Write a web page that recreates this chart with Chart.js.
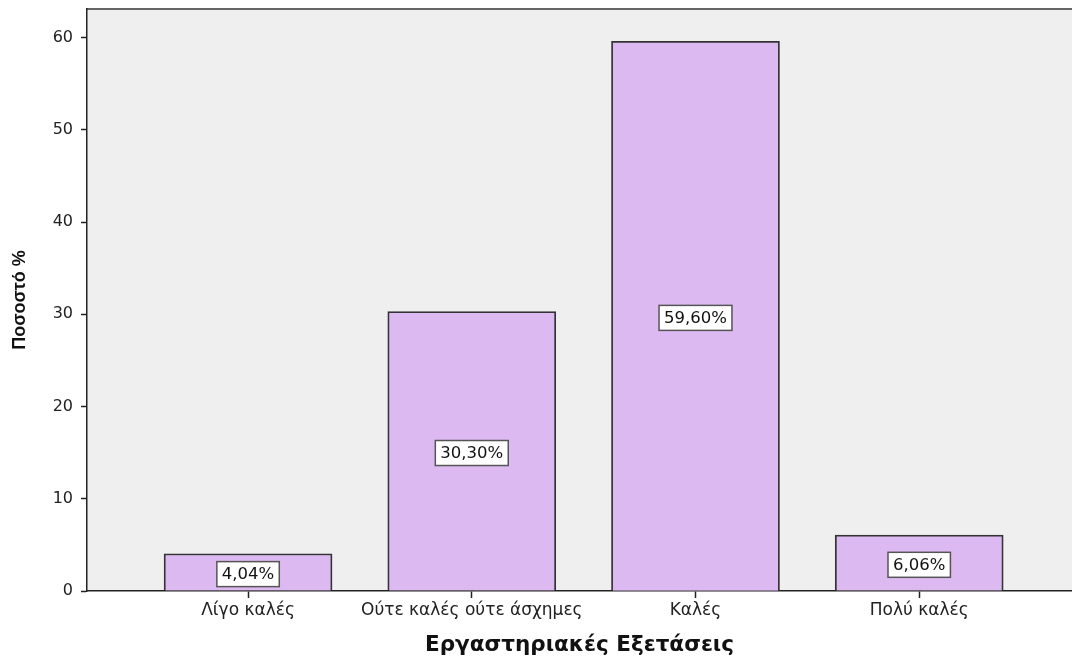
<!DOCTYPE html>
<html>
<head>
<meta charset="utf-8">
<script src="https://cdn.jsdelivr.net/npm/chart.js@4"></script>
<style>
  html, body { margin: 0; padding: 0; background: #fff; }
</style>
</head>
<body>
<canvas id="exams" width="1072" height="659"></canvas>
<script>
const categories = ['Λίγο καλές', 'Ούτε καλές ούτε άσχημες', 'Καλές', 'Πολύ καλές'];
const percents = [4.04, 30.30, 59.60, 6.06];
const yTicks = [0, 10, 20, 30, 40, 50, 60];

// grey plot panel with a frame line along the top
const panel = {
  id: 'panel',
  beforeDraw(chart) {
    const { ctx, chartArea: a } = chart;
    ctx.save();
    ctx.fillStyle = '#efefef';
    ctx.fillRect(a.left, a.top, a.right - a.left, a.bottom - a.top);
    ctx.strokeStyle = '#666';
    ctx.lineWidth = 2;
    ctx.beginPath();
    ctx.moveTo(a.left, a.top);
    ctx.lineTo(a.right, a.top);
    ctx.stroke();
    ctx.restore();
  }
};

// boxed percentage in the middle of every bar
const boxLabels = {
  id: 'boxLabels',
  afterDatasetsDraw(chart) {
    const ctx = chart.ctx;
    const meta = chart.getDatasetMeta(0);
    ctx.save();
    ctx.font = '16.5px "DejaVu Sans"';
    ctx.textAlign = 'center';
    ctx.textBaseline = 'middle';
    meta.data.forEach((bar, i) => {
      const txt = percents[i].toFixed(2).replace('.', ',') + '%';
      const w = ctx.measureText(txt).width + 10;
      const h = 25;
      const cy = (bar.y + bar.base) / 2 + 2;
      ctx.fillStyle = '#fff';
      ctx.fillRect(bar.x - w / 2, cy - h / 2, w, h);
      ctx.strokeStyle = '#555';
      ctx.lineWidth = 1.5;
      ctx.strokeRect(bar.x - w / 2, cy - h / 2, w, h);
      ctx.fillStyle = '#111';
      ctx.fillText(txt, bar.x, cy + 1);
    });
    ctx.restore();
  }
};

new Chart(document.getElementById('exams'), {
  type: 'bar',
  data: {
    datasets: [{
      data: percents.map((v, i) => ({ x: i, y: v })),
      backgroundColor: '#ddb9f2',
      borderColor: '#333',
      borderWidth: 1.8,
      borderSkipped: 'bottom',
      barThickness: 168
    }]
  },
  options: {
    responsive: false,
    animation: false,
    layout: { padding: { top: 9, right: 0, left: 0, bottom: 0 } },
    plugins: { legend: { display: false }, tooltip: { enabled: false } },
    scales: {
      x: {
        type: 'linear',
        offset: false,
        min: -0.72,
        max: 3.683,
        afterBuildTicks: s => { s.ticks = categories.map((c, i) => ({ value: i })); },
        afterFit: s => { s.height = 68; s.paddingLeft = 0; s.paddingRight = 0; },
        ticks: {
          callback: v => categories[v],
          autoSkip: false,
          maxRotation: 0,
          color: '#222',
          font: { family: 'DejaVu Sans', size: 17 },
          padding: 2
        },
        grid: { offset: false, drawOnChartArea: false, tickLength: 7, tickColor: '#222', tickWidth: 1.5 },
        border: { display: true, color: '#222', width: 1.5 },
        title: {
          display: true,
          text: 'Εργαστηριακές Εξετάσεις',
          color: '#111',
          font: { family: 'DejaVu Sans', size: 21.5, weight: 'bold' },
          padding: { top: 0, bottom: 1 }
        }
      },
      y: {
        min: 0,
        max: 63.1,
        afterBuildTicks: s => { s.ticks = yTicks.map(v => ({ value: v })); },
        // the top tick sits below the panel edge, so no extra room is needed for its label
        afterFit: s => { s.width = 87; s.paddingTop = 0; s.paddingBottom = 0; },
        ticks: { color: '#222', font: { family: 'DejaVu Sans', size: 16 }, padding: 8 },
        grid: { drawOnChartArea: false, tickLength: 6, tickColor: '#222', tickWidth: 1.5 },
        border: { display: true, color: '#222', width: 1.5 },
        title: {
          display: true,
          text: 'Ποσοστό %',
          color: '#111',
          font: { family: 'Liberation Sans', size: 18, weight: 'bold' },
          padding: { top: 9, bottom: 0 }
        }
      }
    }
  },
  plugins: [panel, boxLabels]
});
</script>
</body>
</html>
